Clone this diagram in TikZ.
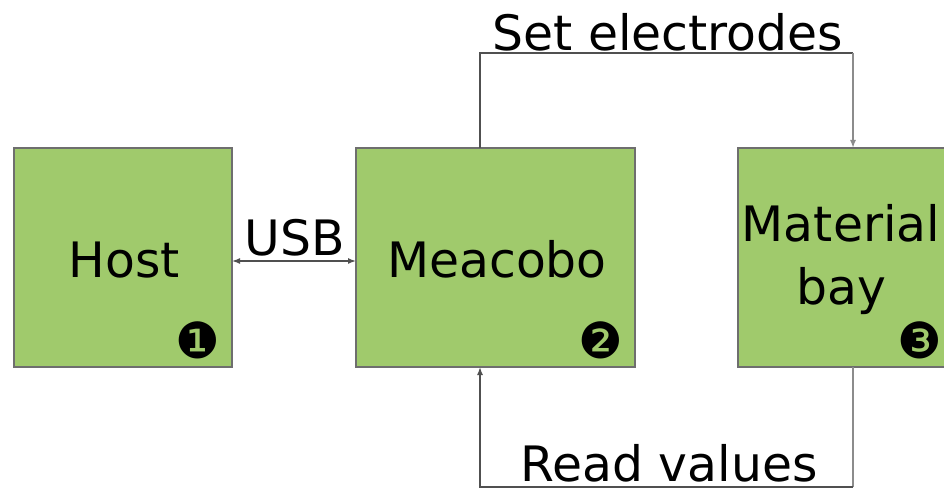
\documentclass[tikz,border=0pt]{standalone}
\usepackage{fontspec}
\setmainfont{DejaVu Sans}
\usetikzlibrary{arrows.meta}
\definecolor{boxfill}{HTML}{A0CA6C}
\definecolor{boxline}{HTML}{6E6E6E}
\definecolor{conn}{HTML}{505050}
\definecolor{connlight}{HTML}{8C8C8C}
\tikzset{
  blk/.style={draw=boxline, line width=1.5bp, fill=boxfill},
  lbl/.style={inner sep=0pt, anchor=base, font=\fontsize{49}{63}\selectfont},
  num/.style={inner sep=0pt, font=\fontsize{50}{50}\selectfont},
  conline/.style={draw=conn, line width=1.5bp},
  tip/.style={-{Latex[length=8bp,width=6bp]}}
}
\begin{document}
\begin{tikzpicture}[x=1bp,y=-1bp]
\useasboundingbox (0,0) rectangle (944,488);
\clip (0,0) rectangle (944,488);
\fill[white] (0,0) rectangle (944,488);
% boxes
\path[blk] (14,148) rectangle (232,367);
\path[blk] (356,148) rectangle (635,367);
\path[blk] (738,148) rectangle (956,367);
\coordinate (hostE) at (232,261);
\coordinate (meaW) at (356,261);
\coordinate (meaN) at (480,148);
\coordinate (meaS) at (480,367);
\coordinate (matN) at (853,148);
\coordinate (matS) at (853,367);
\coordinate (tl) at (480,53);
\coordinate (tr) at (853,53);
\coordinate (bl) at (480,487);
\coordinate (br) at (853,487);
% labels
\node[lbl] (host) at (124,278) {Host};
\node[lbl] (mea) at (497,278) {Meacobo};
\node[lbl] (mat) at (841,242) {Material};
\node[lbl] (bay) at (841,305) {bay};
\node[lbl] (usb) at (295,256) {USB};
\node[lbl] (set) at (668,51) {Set electrodes};
\node[lbl] (read) at (669,481) {Read values};
\node[num] (n1) at (198,340) {❶};
\node[num] (n2) at (601,340) {❷};
\node[num] (n3) at (920,340) {❸};
% connectors
\draw[conline, {Latex[length=8bp,width=6bp]}-{Latex[length=8bp,width=6bp]}] (hostE) -- (meaW);
\draw[conline] (meaN) -- (tl) -- (tr);
\draw[draw=connlight, line width=1.5bp, tip] (tr) -- (matN);
\draw[draw=connlight, line width=1.5bp] (matS) -- (br);
\draw[conline, tip] (br) -- (bl) -- (meaS);
\end{tikzpicture}
\end{document}
